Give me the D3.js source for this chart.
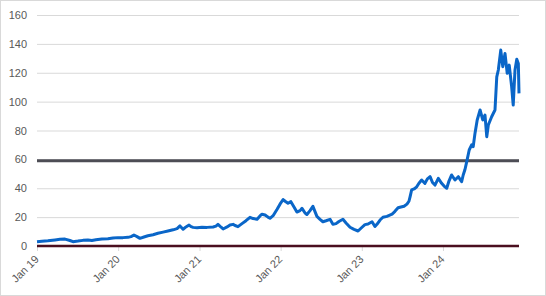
<!DOCTYPE html>
<html>
<head>
<meta charset="utf-8">
<script src="https://cdn.jsdelivr.net/npm/d3@7"></script>
<style>
  body { margin: 0; background: #fff; }
  text { font-family: "Liberation Sans", Arial, sans-serif; }
</style>
</head>
<body>
<div id="chart-area"></div>
<script>
// series (dates as laid out on the chart's date axis)
let dates = [
  "2019-01-01","2019-01-23","2019-02-19","2019-03-23","2019-04-14","2019-05-07","2019-05-29","2019-06-12",
  "2019-07-04","2019-07-27","2019-08-18","2019-09-05","2019-09-23","2019-10-20","2019-11-16","2019-12-09",
  "2019-12-31","2020-01-23","2020-02-14","2020-02-28","2020-03-12","2020-03-26","2020-04-08","2020-04-26",
  "2020-05-14","2020-06-06","2020-06-28","2020-07-21","2020-08-12","2020-09-04","2020-09-22","2020-10-05",
  "2020-10-19","2020-11-01","2020-11-15","2020-11-24","2020-12-03","2020-12-21","2021-01-12","2021-02-04",
  "2021-03-03","2021-03-16","2021-03-25","2021-04-08","2021-04-17","2021-05-05","2021-05-18","2021-06-01",
  "2021-06-10","2021-06-23","2021-07-11","2021-07-29","2021-08-16","2021-08-30","2021-09-17","2021-09-30",
  "2021-10-09","2021-10-23","2021-11-05","2021-11-14","2021-11-28","2021-12-16","2021-12-29","2022-01-12",
  "2022-01-21","2022-02-03","2022-02-16","2022-03-02","2022-03-15","2022-03-29","2022-04-07","2022-04-20",
  "2022-04-29","2022-05-13","2022-05-26","2022-06-04","2022-06-13","2022-06-27","2022-07-10","2022-07-24",
  "2022-08-11","2022-08-24","2022-09-07","2022-09-20","2022-10-08","2022-10-22","2022-11-09","2022-11-27",
  "2022-12-15","2023-01-02","2023-01-15","2023-01-29","2023-02-16","2023-03-01","2023-03-10","2023-03-24",
  "2023-04-06","2023-04-24","2023-05-17","2023-05-30","2023-06-13","2023-06-26","2023-07-10","2023-07-23",
  "2023-08-01","2023-08-06","2023-08-13","2023-08-24","2023-09-05","2023-09-15","2023-09-27","2023-10-12",
  "2023-10-23","2023-11-04","2023-11-15","2023-11-26","2023-12-11","2023-12-26","2024-01-06","2024-01-18",
  "2024-01-28","2024-02-09","2024-02-24","2024-03-10","2024-03-25","2024-04-01","2024-04-09","2024-04-17",
  "2024-04-28","2024-05-09","2024-05-16","2024-05-24","2024-06-03","2024-06-16","2024-06-28","2024-07-08",
  "2024-07-16","2024-07-23","2024-08-07","2024-08-22","2024-08-30","2024-09-06","2024-09-17","2024-09-26",
  "2024-10-06","2024-10-16","2024-10-25","2024-11-05","2024-11-12","2024-11-20","2024-11-28","2024-12-05",
  "2024-12-08"
]
let prices = [
  3.0, 3.3, 3.6, 4.2, 4.6, 4.8, 3.8, 3.0,
  3.4, 3.9, 4.2, 3.8, 4.3, 4.8, 5.0, 5.5,
  5.8, 5.8, 6.0, 6.5, 7.6, 6.5, 5.3, 6.2,
  7.1, 7.8, 8.8, 9.6, 10.4, 11.2, 12.0, 13.9,
  11.6, 13.2, 14.5, 13.4, 12.9, 12.7, 13.0, 12.9,
  13.2, 13.8, 15.0, 13.0, 11.8, 13.2, 14.5, 15.0,
  14.2, 13.4, 15.5, 17.5, 19.9, 19.0, 18.5, 20.8,
  22.0, 21.5, 20.0, 19.2, 21.0, 25.5, 29.0, 32.2,
  31.0, 29.6, 30.7, 27.0, 23.5, 24.5, 26.1, 23.0,
  21.8, 24.5, 27.5, 24.0, 20.5, 18.5, 16.8, 17.5,
  18.5, 15.0, 15.5, 17.0, 18.5, 16.0, 13.0, 11.5,
  10.4, 13.0, 14.8, 15.2, 16.8, 13.5, 15.0, 18.0,
  19.9, 20.5, 22.0, 24.0, 26.5, 27.0, 27.5, 29.0,
  31.0, 34.1, 38.8, 39.5, 41.0, 43.5, 45.7, 43.4,
  46.5, 48.0, 44.0, 42.2, 46.9, 43.4, 41.5, 40.0,
  45.0, 49.2, 45.7, 48.0, 44.5, 49.2, 53.0, 58.4,
  66.5, 70.0, 68.8, 78.0, 87.3, 94.2, 87.3, 90.7,
  75.7, 83.8, 89.5, 94.2, 117.2, 121.9, 135.7, 124.2,
  133.4, 119.6, 125.3, 110.3, 97.6, 121.9, 129.3, 126.4,
  105.7
]
let levelValue = 59
let yTicks = [0, 20, 40, 60, 80, 100, 120, 140, 160]
let xTickDates = ["2019-01-01", "2020-01-01", "2021-01-01", "2022-01-01", "2023-01-01", "2024-01-01"]
let xStart = "2019-01-01"
let xEnd = "2024-12-08"

let margin = { top: 15, right: 27, bottom: 50, left: 37 }
let width = 546, height = 296
let canvasWidth = width - margin.left - margin.right
let canvasHeight = height - margin.top - margin.bottom

let parse = d3.timeParse("%Y-%m-%d")
let data = dates.map((d, i) => ({ date: parse(d), value: prices[i] }))

let svg = d3.select("#chart-area").append("svg")
  .attr("width", width)
  .attr("height", height)

svg.append("rect")
  .attr("x", 0.5).attr("y", 0.5)
  .attr("width", width - 1).attr("height", height - 1)
  .attr("fill", "#fff")
  .attr("stroke", "#d9d9d9")

let g = svg.append("g")
  .attr("transform", "translate(" + margin.left + "," + margin.top + ")")

let x = d3.scaleTime()
  .domain([parse(xStart), parse(xEnd)])
  .range([0, canvasWidth])

let y = d3.scaleLinear()
  .domain([0, 160])
  .range([canvasHeight, 0])

// gridlines + labels
let yAxisCall = d3.axisLeft(y)
  .tickValues(yTicks)
  .tickSize(-canvasWidth)
  .tickPadding(10)

let yAxisGroup = g.append("g").attr("class", "y-axis").call(yAxisCall)
yAxisGroup.select(".domain").remove()
yAxisGroup.selectAll("line").attr("stroke", "#d9d9d9")
yAxisGroup.selectAll("text")
  .attr("fill", "#595959")
  .style("font-size", "11px")

// x axis ticks + rotated labels
let xAxisCall = d3.axisBottom(x)
  .tickValues(xTickDates.map(parse))
  .tickSize(5)
  .tickFormat(d3.timeFormat("Jan %y"))

let xAxisGroup = g.append("g")
  .attr("class", "x-axis")
  .attr("transform", "translate(0," + canvasHeight + ")")
  .call(xAxisCall)
xAxisGroup.select(".domain").remove()
xAxisGroup.selectAll("line").attr("stroke", "#d9d9d9")
xAxisGroup.selectAll("text")
  .attr("fill", "#595959")
  .style("font-size", "11px")
  .attr("text-anchor", "end")
  .attr("x", -8.5)
  .attr("y", 11.3)
  .attr("dx", 0)
  .attr("dy", 0)
  .attr("transform", "rotate(-45)")

// zero line
g.append("line")
  .attr("x1", x(parse(xStart))).attr("x2", x(parse(xEnd)))
  .attr("y1", y(0)).attr("y2", y(0))
  .attr("stroke", "#4a0f1f")
  .attr("stroke-width", 2.5)

// level line
g.append("line")
  .attr("x1", x(parse(xStart))).attr("x2", x(parse(xEnd)))
  .attr("y1", y(levelValue)).attr("y2", y(levelValue))
  .attr("stroke", "#4d4d55")
  .attr("stroke-width", 3)

let line = d3.line()
  .x(d => x(d.date))
  .y(d => y(d.value))

g.append("path")
  .datum(data)
  .attr("fill", "none")
  .attr("stroke", "#0a66c8")
  .attr("stroke-width", 3)
  .attr("stroke-linejoin", "round")
  .attr("d", line)
</script>
</body>
</html>
